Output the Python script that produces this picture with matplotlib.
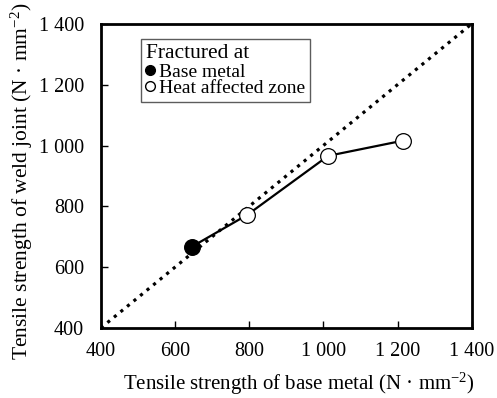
import matplotlib
matplotlib.use('Agg')
from matplotlib import pyplot as plt
from matplotlib.ticker import FuncFormatter
from matplotlib.lines import Line2D

plt.rcParams['font.family'] = ['Liberation Serif', 'DejaVu Serif']
plt.rcParams['mathtext.fontset'] = 'custom'
plt.rcParams['mathtext.rm'] = 'Liberation Serif'
plt.rcParams['mathtext.it'] = 'Liberation Serif:italic'

# data
base = [645, 795, 1013, 1215]
weld = [667, 772, 966, 1016]
fractured = ['base', 'haz', 'haz', 'haz']
diag = [400, 1400]
ticks = [400, 600, 800, 1000, 1200, 1400]

fig, ax = plt.subplots(figsize=(4.97, 3.98), dpi=100)
fig.subplots_adjust(left=0.203, right=0.949, top=0.94, bottom=0.176)

ax.plot(diag, diag, ':', color='black', lw=2.3, zorder=1)
ax.plot(base, weld, '-', color='black', lw=1.6, zorder=2)
for x, y, f in zip(base, weld, fractured):
    fc = 'black' if f == 'base' else 'white'
    ax.plot(x, y, 'o', ms=11.3, mfc=fc, mec='black', mew=0.9, zorder=3)

ax.set_xlim(400, 1400)
ax.set_ylim(400, 1400)
ax.set_xticks(ticks)
ax.set_yticks(ticks)
fmt = FuncFormatter(lambda v, p: f'{int(v):,}'.replace(',', ' '))
ax.xaxis.set_major_formatter(fmt)
ax.yaxis.set_major_formatter(fmt)
ax.tick_params(direction='in', length=5, width=1, labelsize=14.5)
ax.tick_params(axis='x', pad=10)
ax.tick_params(axis='y', pad=12)
for s in ax.spines.values():
    s.set_linewidth(2)

ax.set_xlabel('Tensile strength of base metal (N · mm$^{-2}$)', fontsize=15, labelpad=7)
ax.set_ylabel('Tensile strength of weld joint (N · mm$^{-2}$)', fontsize=15.5, labelpad=3)
ax.xaxis.label.set_x(0.535)
ax.yaxis.label.set_y(0.484)

handles = [Line2D([], [], ls='none', marker='o', ms=7, mfc='black', mec='black'),
           Line2D([], [], ls='none', marker='o', ms=7, mfc='white', mec='black')]
leg = ax.legend(handles, ['Base metal', 'Heat affected zone'], title='Fractured at',
                loc='upper left', bbox_to_anchor=(0.108, 0.95), fontsize=14,
                title_fontsize=15.5, alignment='left', frameon=True, fancybox=False,
                edgecolor='#333333', handlelength=0.45, handletextpad=0.25,
                borderpad=0.25, labelspacing=-0.05, borderaxespad=0)
leg.get_frame().set_linewidth(1)
leg._legend_box.sep = 0

plt.savefig('out.png', dpi=100)
